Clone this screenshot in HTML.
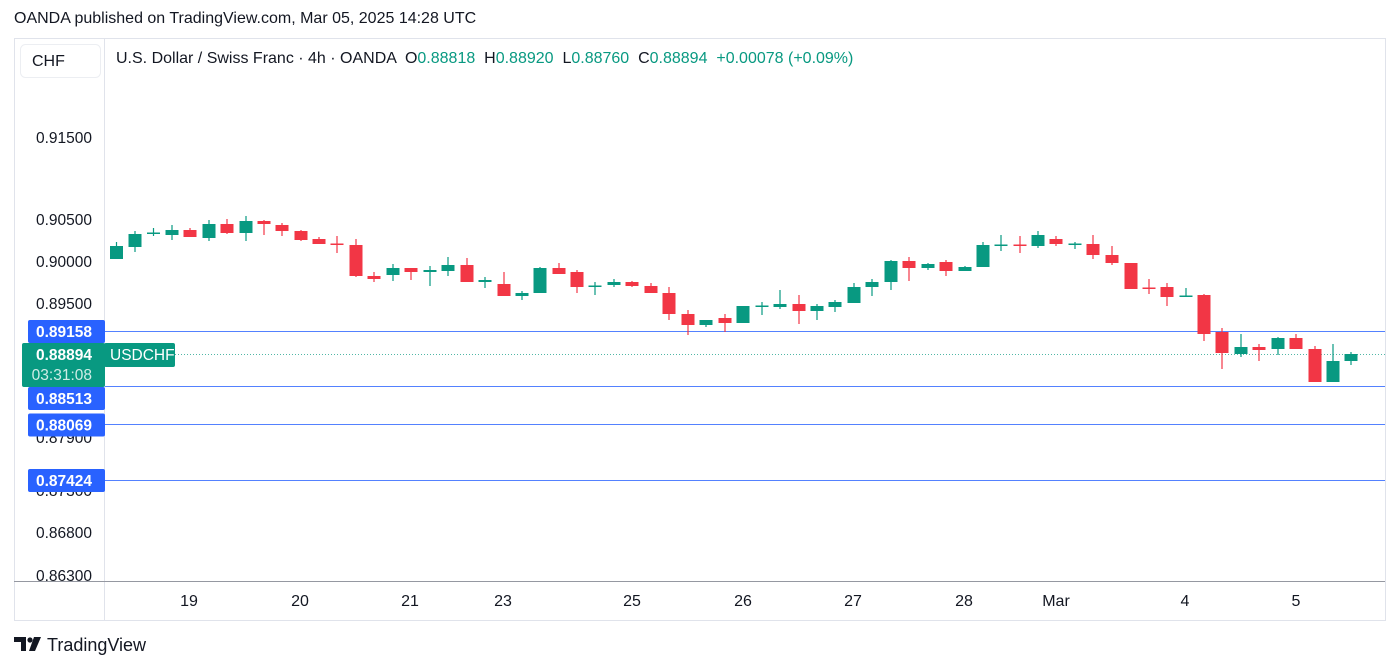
<!DOCTYPE html>
<html><head><meta charset="utf-8"><style>
body{margin:0;width:1400px;height:668px;background:#fff;font-family:"Liberation Sans",sans-serif;overflow:hidden;position:relative}
.t{position:absolute;white-space:nowrap}
</style></head><body>
<div class="t" style="left:14px;top:10px;font-size:16px;color:#131722">OANDA published on TradingView.com, Mar 05, 2025 14:28 UTC</div>
<svg id="s" width="1400" height="668" style="position:absolute;left:0;top:0" font-family="Liberation Sans, sans-serif"></svg>
<div class="t" style="left:116px;top:50px;font-size:16px;color:#131722;white-space:pre">U.S. Dollar / Swiss Franc · 4h · OANDA  O<span style="color:#089981">0.88818</span>  H<span style="color:#089981">0.88920</span>  L<span style="color:#089981">0.88760</span>  C<span style="color:#089981">0.88894  +0.00078 (+0.09%)</span></div>
<script>
const C=[
[116.5,242,246,259,259,'G'],[135,231,234,247,252,'G'],[153.5,228,232.5,233.5,236,'G'],[172,225,230,235,240,'G'],
[190,228,230,237,237,'R'],[209,220,224,238,241,'G'],[227,219,224,233,234,'R'],[246,216,221,233,241,'G'],
[264,220,221,224,235,'R'],[282,223,225,231,236,'R'],[301,230,231,240,241,'R'],[319,237,239,244,244,'R'],
[337,236,243.5,244.5,253,'R'],[356,239,245,276,277,'R'],[374,272,276,279,282,'R'],[393,264,268,275,281,'G'],
[411,268,268,272,280,'R'],[430,266,270,272,286,'G'],[448,257,265,271,276,'G'],[467,258,265,282,282,'R'],
[485,277,280,282,288,'G'],[504,272,284,296,296,'R'],[522,291,293,296,300,'G'],[540,267,268,293,293,'G'],
[559,263,268,274,274,'R'],[577,270,272,287,293,'R'],[595,282,285.5,286.5,295,'G'],[614,279,282,285,287,'G'],
[632,281,282,286,287,'R'],[651,283,286,293,293,'R'],[669,287,293,314,320,'R'],[688,310,314,325,335,'R'],
[706,320,320,325,327,'G'],[725,314,318,323,332,'R'],[743,306,306,323,323,'G'],[762,302,305.5,306.5,315,'G'],
[780,290,304,307,309,'G'],[799,295,304,311,324,'R'],[817,304,306,311,320,'G'],[835,300,302,307,312,'G'],
[854,283,287,303,303,'G'],[872,279,282,287,296,'G'],[891,260,261,282,290,'G'],[909,257,261,268,281,'R'],
[928,263,264,268,270,'G'],[946,260,262,271,276,'R'],[965,266,267,271,271,'G'],[983,242,245,267,267,'G'],
[1001,235,244.5,245.5,251,'G'],[1020,236,244.5,245.5,253,'R'],[1038,231,235,246,248,'G'],[1056,236,239,244,246,'R'],
[1075,242,243.5,244.5,249,'G'],[1093,235,244,255,259,'R'],[1112,246,255,263,265,'R'],[1131,263,263,289,289,'R'],
[1149,279,287.5,288.5,294,'R'],[1167,283,287,297,306,'R'],[1186,288,295.5,296.5,296,'G'],[1204,294,295,334,341,'R'],
[1222,328,332,353,369,'R'],[1241,334,347,354,357,'G'],[1259,344,347,350,361,'R'],[1278,337,338,349,355,'G'],
[1296,334,338,349,349,'R'],[1315,346,349,382,382,'R'],[1333,344,361,382,382,'G'],[1351,352,354,361,365,'G']];
let h='';
h+='<rect x="14.5" y="38.5" width="1371" height="582" fill="none" stroke="#e0e3eb"/>';
h+='<line x1="104.5" y1="38" x2="104.5" y2="620" stroke="#e0e3eb"/>';
h+='<line x1="14" y1="581.5" x2="1385" y2="581.5" stroke="#9598a1"/>';
h+='<rect x="20.5" y="44.5" width="80" height="33" rx="5" fill="#fff" stroke="#eceef2"/>';
h+='<text x="32" y="66" font-size="16" fill="#131722">CHF</text>';
[['0.91500',138],['0.90500',220],['0.90000',262],['0.89500',304],['0.86800',533],['0.86300',576],['0.87900',438],['0.87300',491]].forEach(a=>{h+=`<text x="92" y="${a[1]+5}" font-size="15.5" text-anchor="end" fill="#131722">${a[0]}</text>`});
[[331,331,'0.89158'],[386,398,'0.88513'],[424,424.5,'0.88069'],[480,480,'0.87424']].forEach(a=>{
h+=`<line x1="105" y1="${a[0]+.5}" x2="1385" y2="${a[0]+.5}" stroke="#2962ff" stroke-width="1" opacity="0.8"/>`;
h+=`<rect x="28" y="${a[1]-11}" width="77" height="23" rx="2" fill="#2962ff"/><text x="92" y="${a[1]+6}" font-size="15.5" text-anchor="end" fill="#fff" font-weight="bold">${a[2]}</text>`;});
h+='<line x1="175" y1="354.5" x2="1385" y2="354.5" stroke="#089981" stroke-dasharray="1,2" opacity="0.7"/>';
h+='<rect x="22" y="343" width="83" height="44" rx="2" fill="#089981"/><text x="92" y="360" font-size="15.5" text-anchor="end" fill="#fff" font-weight="bold">0.88894</text><text x="92" y="380" font-size="15.5" text-anchor="end" fill="#cfece6">03:31:08</text>';
h+='<rect x="104" y="343" width="71" height="24" rx="2" fill="#089981"/><text x="110" y="360" font-size="15.5" fill="#fff">USDCHF</text>';
C.forEach(c=>{const col=c[5]=='G'?'#089981':'#f23645';
h+=`<line x1="${c[0]}" y1="${c[1]}" x2="${c[0]}" y2="${c[4]}" stroke="${col}" stroke-width="1.2"/>`;
h+=`<rect x="${c[0]-6.5}" y="${c[2]}" width="13" height="${Math.max(c[3]-c[2],1.5)}" fill="${col}"/>`;});
[['19',189],['20',300],['21',410],['23',503],['25',632],['26',743],['27',853],['28',964],['Mar',1056],['4',1185],['5',1296]].forEach(a=>{h+=`<text x="${a[1]}" y="606" font-size="16" text-anchor="middle" fill="#131722">${a[0]}</text>`});
h+='<path d="M14 637h12v14h-5v-9h-7z" fill="#131722"/><circle cx="30" cy="640" r="2.6" fill="#131722"/><path d="M34 637h7l-6 14h-6z" fill="#131722"/>';
h+='<text x="47" y="651" font-size="18" fill="#131722">TradingView</text>';
document.getElementById('s').innerHTML=h;
</script>
</body></html>
